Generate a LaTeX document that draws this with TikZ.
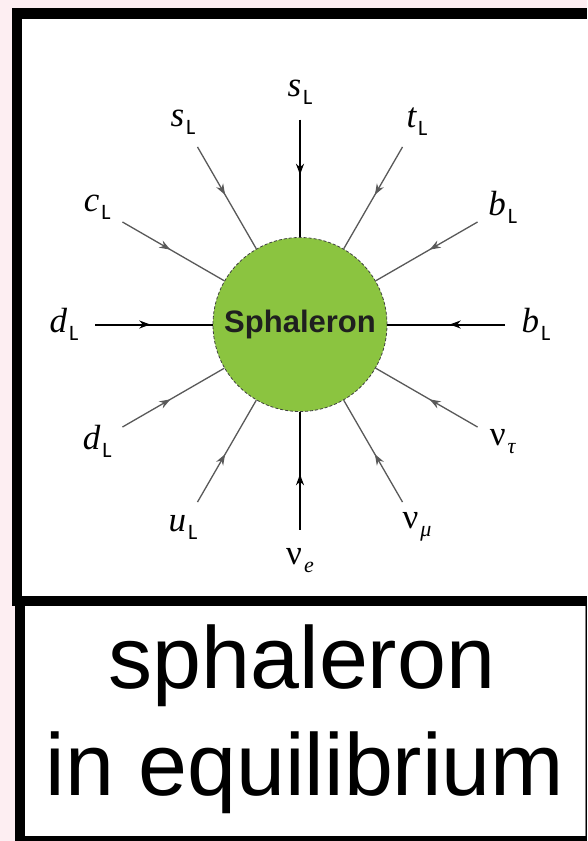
\documentclass[tikz,border=0pt]{standalone}
\usepackage{fontspec}
\setmainfont{Liberation Serif}
\newfontfamily\carl{Carlito}
\newfontfamily\hel{Liberation Sans}
\usetikzlibrary{arrows.meta,decorations.markings,calc}
\definecolor{pinkbg}{RGB}{253,238,242}
\definecolor{sphgreen}{RGB}{139,196,64}
\newcommand\mylab[2]{{\fontsize{35}{35}\selectfont #1}\hspace{2pt}\raisebox{-8pt}{\fontsize{22}{22}\selectfont #2}}
\newcommand\Lsub{{\carl L}}
\begin{document}
\begin{tikzpicture}[x=1pt,y=-1pt,
  leg/.style={draw=black!65, line width=1.3pt, postaction={decorate},
    decoration={markings, mark=at position 0.47 with {\arrow{Stealth[length=11pt,width=8pt]}}}},
  axisleg/.style={leg, draw=black, line width=2pt},
  lbl/.style={inner sep=0pt, anchor=center}]
\useasboundingbox (0,0) rectangle (587,841);
% background and frames
\fill[pinkbg] (0,0) rectangle (587,841);
\fill[black] (12,8) rectangle (587,606);
\fill[white] (22,19) rectangle (587,596);
\fill[black] (15,596) rectangle (587,841);
\fill[white] (25,606) rectangle (585,836);
\draw[gray, line width=1pt] (585.5,606) -- (585.5,836);
% sphaleron
\node[circle, fill=sphgreen, draw=black!75, dash pattern=on 3pt off 2pt, line width=0.8pt,
  minimum size=174pt, inner sep=0pt, text=black!88,
  font=\hel\bfseries\fontsize{31}{31}\selectfont] (sph) at (300,324.5) {Sphaleron};
% legs
\foreach \a/\s in {0/axisleg,30/leg,60/leg,90/axisleg,120/leg,150/leg,180/axisleg,210/leg,240/leg,270/axisleg,300/leg,330/leg}{
  \coordinate (o\a) at ($(sph.center)+(\a:205)$);
  \draw[\s] (o\a) -- (sph);
}
% labels
\node[lbl] (l0)   at ($(sph.center)+(0:236)$)   {\mylab{\itshape b}{\Lsub}};
\node[lbl] (l30)  at ($(sph.center)+(30:234)$)  {\mylab{ν}{\itshape τ}};
\node[lbl] (l60)  at ($(sph.center)+(60:234)$)  {\mylab{ν}{\itshape μ}};
\node[lbl] (l90)  at ($(sph.center)+(90:236)$)  {\mylab{ν}{\itshape e}};
\node[lbl] (l120) at ($(sph.center)+(120:234)$) {\mylab{\itshape u}{\Lsub}};
\node[lbl] (l150) at ($(sph.center)+(150:234)$) {\mylab{\itshape d}{\Lsub}};
\node[lbl] (l180) at ($(sph.center)+(180:236)$) {\mylab{\itshape d}{\Lsub}};
\node[lbl] (l210) at ($(sph.center)+(210:234)$) {\mylab{\itshape c}{\Lsub}};
\node[lbl] (l240) at ($(sph.center)+(240:234)$) {\mylab{\itshape s}{\Lsub}};
\node[lbl] (l270) at ($(sph.center)+(270:232)$) {\mylab{\itshape s}{\Lsub}};
\node[lbl] (l300) at ($(sph.center)+(300:234)$) {\mylab{\itshape t}{\Lsub}};
\node[lbl] (l330) at ($(sph.center)+(330:234)$) {\mylab{\itshape b}{\Lsub}};
% caption
\node[font=\hel\fontsize{88}{88}\selectfont, anchor=base, inner sep=0pt] (t1) at (302,688) {sphaleron};
\node[font=\hel\fontsize{88}{88}\selectfont, anchor=base, inner sep=0pt] (t2) at (305,795) {in equilibrium};
\end{tikzpicture}
\end{document}
